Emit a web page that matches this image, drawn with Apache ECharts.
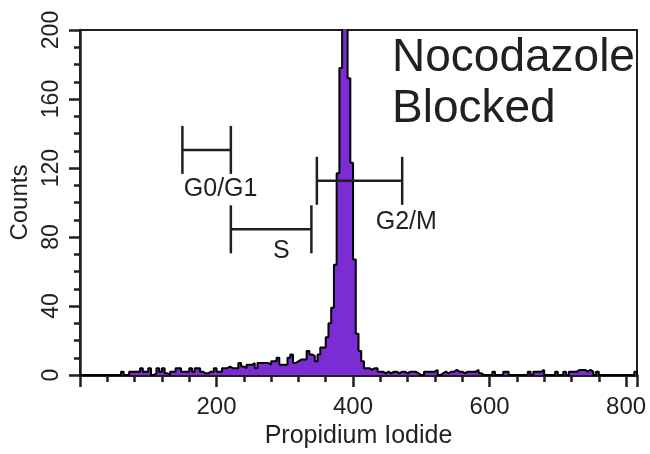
<!DOCTYPE html>
<html><head><meta charset="utf-8">
<script src="https://cdn.jsdelivr.net/npm/echarts@6/dist/echarts.min.js"></script>
<style>html,body{margin:0;padding:0;background:#fff}#c{width:650px;height:454px}</style>
</head><body><div id="c"></div>
<script>
// Histogram: bins of width 4 starting at 0 (Propidium Iodide channel)
const binWidth = 4;
const counts = [
  0,0,0,0,0,0,0,0,0,0,0,0,0,0,          // 0-52
  0,2,0,0,2,2,2,2,4,2,2,4,0,1,4,2,      // 56-116
  4,1,0,2,2,4,4,2,2,2,4,2,4,4,2,1,      // 120-180
  1,2,2,4,2,2,4,4,5,4,4,4,7,5,4,6,      // 184-244
  6,7,4,7,7,7,7,6,8,8,10,6,6,6,10,12,   // 248-308
  7,8,9,9,9,14,12,11,8,12,16,16,22,30,39,64, // 312-372
  117,178,240,225,172,123,67,24,14,8,4,4,3,4,4,2, // 376-436
  2,1,2,1,2,2,1,2,2,1,2,2,2,1,0,0,      // 440-500
  2,2,2,2,3,0,1,2,1,2,2,3,2,2,1,2,      // 504-564
  2,2,2,3,1,0,0,0,0,2,0,0,0,2,2,0,      // 568-628
  0,0,0,0,0,0,2,0,2,2,2,3,0,0,0,0,      // 632-692
  2,0,0,2,0,2,2,2,3,3,3,2,3,2,0,2,      // 696-756
  0,0,0,0,0,0,0,0,0,0,0,0,0,2           // 760-812
];
const xMin = 0, xMax = 816, xInterval = 200;
const yMin = 0, yMax = 200, yInterval = 40;

// Gate annotations (data coordinates)
const gateNames  = ['G0/G1', 'S', 'G2/M'];
const gateStart  = [150, 221, 347];
const gateEnd    = [221, 339, 472];
const gateLevel  = [130.5, 84.5, 112.6];
const gateLabelX = [206, 295, 478];
const gateLabelY = [107.5, 72, 88.5];

const titleLines = ['Nocodazole', 'Blocked'];
const xName = 'Propidium Iodide';
const yName = 'Counts';

const INK = '#231F20';
const FONT = '"Liberation Sans", Arial, Helvetica, sans-serif';

const histData = counts.map((c, i) => [i * binWidth, c]);
histData.push([counts.length * binWidth, 0]);

const gateData = gateNames.map((n, i) => [gateStart[i], gateEnd[i], gateLevel[i], gateLabelX[i], gateLabelY[i]]);

const chart = echarts.init(document.getElementById('c'), null, {renderer: 'canvas'});
chart.setOption({
  animation: false,
  backgroundColor: '#fff',
  grid: {left: 80, right: 13, top: 30, bottom: 76, show: true, borderColor: INK, borderWidth: 2, backgroundColor: 'transparent'},
  xAxis: {
    type: 'value', min: xMin, max: xMax, interval: xInterval,
    name: xName, nameLocation: 'middle', nameGap: 48,
    nameTextStyle: {fontSize: 25, color: INK, fontFamily: FONT},
    axisLine: {show: true, onZero: false, lineStyle: {color: INK, width: 3}},
    axisTick: {show: true, inside: false, length: 12, lineStyle: {color: INK, width: 2.5}},
    minorTick: {show: true, splitNumber: 5, length: 7, lineStyle: {color: INK, width: 2.5}},
    axisLabel: {fontSize: 24, color: INK, fontFamily: FONT, margin: 20, showMinLabel: false, showMaxLabel: false},
    splitLine: {show: false}
  },
  yAxis: {
    type: 'value', min: yMin, max: yMax, interval: yInterval,
    name: yName, nameLocation: 'middle', nameGap: 44, nameRotate: 90,
    nameTextStyle: {fontSize: 24, color: INK, fontFamily: FONT},
    axisLine: {show: true, onZero: false, lineStyle: {color: INK, width: 2.5}},
    axisTick: {show: true, inside: false, length: 11, lineStyle: {color: INK, width: 2.5}},
    minorTick: {show: true, splitNumber: 4, length: 6, lineStyle: {color: INK, width: 2.5}},
    axisLabel: {fontSize: 23, color: INK, fontFamily: FONT, rotate: 90, margin: 17},
    splitLine: {show: false}
  },
  series: [
    {
      type: 'line', data: histData, step: 'end', symbol: 'none', clip: true,
      lineStyle: {color: '#000', width: 2},
      areaStyle: {color: '#7B2CD3', opacity: 1},
      z: 2
    },
    {
      type: 'custom', data: gateData, clip: false, z: 5,
      encode: {x: [0, 1], y: 2},
      renderItem: function (params, api) {
        const y = api.value(2);
        const p1 = api.coord([api.value(0), y]);
        const p2 = api.coord([api.value(1), y]);
        const lp = api.coord([api.value(3), api.value(4)]);
        const h = 24;
        const st = {stroke: INK, lineWidth: 2.5};
        return {type: 'group', children: [
          {type: 'line', shape: {x1: p1[0], y1: p1[1], x2: p2[0], y2: p2[1]}, style: st},
          {type: 'line', shape: {x1: p1[0], y1: p1[1] - h, x2: p1[0], y2: p1[1] + h}, style: st},
          {type: 'line', shape: {x1: p2[0], y1: p2[1] - h, x2: p2[0], y2: p2[1] + h}, style: st},
          {type: 'text', x: lp[0], y: lp[1], style: {text: gateNames[params.dataIndex], fill: INK, fontSize: 25, fontFamily: FONT, align: 'center', verticalAlign: 'middle'}}
        ]};
      }
    }
  ],
  graphic: [
    {type: 'text', x: 392, y: 58, z: 10, style: {text: titleLines[0], fill: INK, fontSize: 46, fontFamily: FONT, align: 'left', verticalAlign: 'middle'}},
    {type: 'text', x: 392, y: 109, z: 10, style: {text: titleLines[1], fill: INK, fontSize: 46, fontFamily: FONT, align: 'left', verticalAlign: 'middle'}}
  ]
});
</script>
</body></html>
